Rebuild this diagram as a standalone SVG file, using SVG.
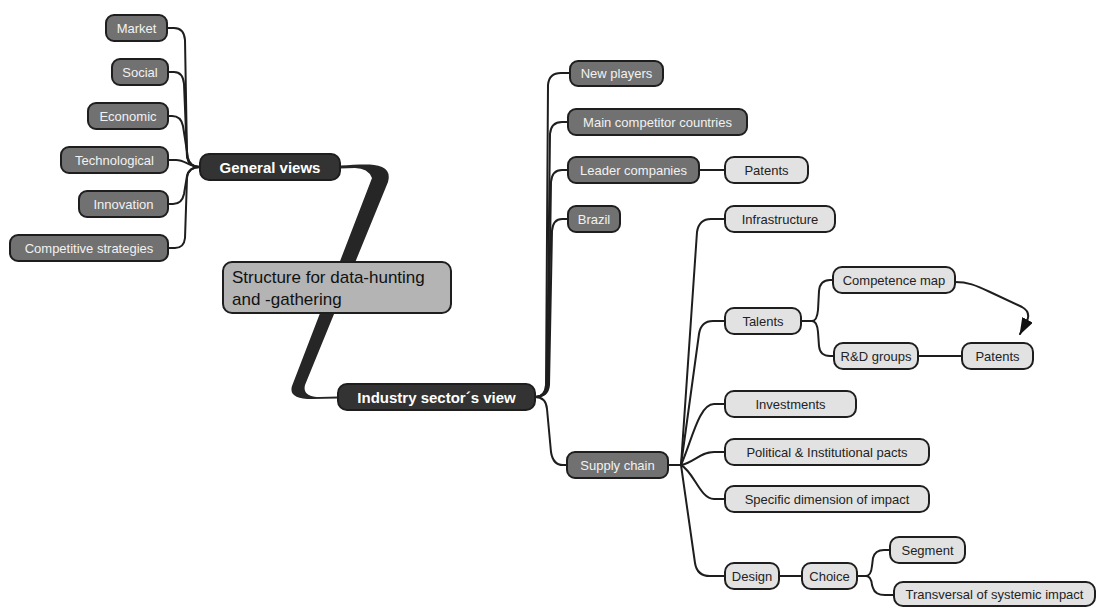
<svg xmlns="http://www.w3.org/2000/svg" width="1097" height="607" viewBox="0 0 1097 607">
  <defs>
    <style>
      .node rect { stroke: #1e1e1e; stroke-width: 2; }
      .mid rect { fill: #717171; }
      .dark rect { fill: #333333; }
      .light rect { fill: #e2e2e2; }
      .root rect { fill: #b4b4b4; }
      text { font-family: "Liberation Sans", Arial, sans-serif; }
      .node text { font-size: 13px; text-anchor: middle; dominant-baseline: central; }
      .mid text { fill: #f2f2f2; }
      .light text { fill: #222222; }
      .dark text { fill: #ffffff; font-size: 15px; font-weight: bold; }
      .root text { fill: #111111; font-size: 17px; text-anchor: start; dominant-baseline: auto; }
      .link { fill: none; stroke: #1e1e1e; stroke-width: 2; stroke-linecap: round; }
    </style>
    <marker id="arrow" markerUnits="userSpaceOnUse" markerWidth="17" markerHeight="12" refX="16" refY="6" orient="auto">
      <path d="M0,0 L17,6 L0,12 z" fill="#111111"/>
    </marker>
  </defs>

  <!-- connectors -->
  <g id="connectors">
    <!-- thick branch between the two main topics -->
    <path d="M340,165.5 C358,165 372,163 382,167 Q391,171 388,182 L305,385 Q302,397 320,397 L338,396.5 L338,398.5 L312,399 Q288,399 292,386 L372,178 Q368,168 355,168 L340,168.5 Z" fill="#262626"/>

    <!-- General views fan -->
    <path class="link" d="M200,167 Q188,167 187,155 L185,40 Q184,28 174,28 L168,28"/>
    <path class="link" d="M200,167 Q189,167 187,157 L184,84 Q183,72 174,72 L168,72"/>
    <path class="link" d="M200,167 Q190,167 188,158 L183,126 Q181,116 172,116 L168,116"/>
    <path class="link" d="M200,167 C190,167 185,160 176,160 L168,160"/>
    <path class="link" d="M200,167 Q189,167 187,176 L184,194 Q182,204 173,204 L168,204"/>
    <path class="link" d="M200,167 Q188,167 187,178 L185,238 Q184,248 175,248 L168,248"/>

    <!-- Industry sector's view fan -->
    <path class="link" d="M535,397 Q545,397 546,385 L548,85 Q549,73 561,73 L570,73"/>
    <path class="link" d="M535,397 Q546,397 547,385 L550,134 Q551,122 562,122 L568,122"/>
    <path class="link" d="M535,397 Q547,397 548,385 L551,182 Q552,170 562,170 L568,170"/>
    <path class="link" d="M535,397 Q548,397 549,385 L552,231 Q553,219 562,219 L568,219"/>
    <path class="link" d="M535,397 Q546,397 547,409 L551,452 Q553,465 563,465 L567,465"/>

    <!-- Leader companies -> Patents -->
    <path class="link" d="M699,170 L725,170"/>

    <!-- Supply chain fan -->
    <path class="link" d="M668,465 L681,465 L697,232 Q699,219 711,219 L725,219"/>
    <path class="link" d="M681,465 L699,334 Q701,321 713,321 L725,321"/>
    <path class="link" d="M681,465 C692,440 699,404 714,404 L725,404"/>
    <path class="link" d="M681,465 C695,462 700,452 714,452 L725,452"/>
    <path class="link" d="M681,465 C694,472 700,499 714,499 L725,499"/>
    <path class="link" d="M681,465 L695,563 Q697,576 710,576 L725,576"/>

    <!-- Talents fan -->
    <path class="link" d="M801,321 L812,321 Q817,321 818,310 L819,291 Q820,280 830,280 L833,280"/>
    <path class="link" d="M812,321 Q817,321 818,332 L819,346 Q820,356 830,356 L834,356"/>
    <path class="link" d="M918,356 L962,356"/>

    <!-- Competence map -> Patents cross link -->
    <path class="link" d="M955,282 C968,282 975,285 990,292 L1022,307 Q1031,312 1027,321 L1020,334" marker-end="url(#arrow)"/>

    <!-- Design / Choice -->
    <path class="link" d="M779,576 L802,576"/>
    <path class="link" d="M857,576 L866,576 Q871,576 872,566 L873,558 Q875,550 884,550 L890,550"/>
    <path class="link" d="M866,576 Q871,576 872,585 L873,588 Q875,595 885,595 L894,595"/>
  </g>

  <!-- central topic -->
  <g id="root" class="node root">
    <rect x="223" y="262" width="228" height="51" rx="9"/>
    <text x="232" y="283">Structure for data-hunting</text>
    <text x="232" y="305">and -gathering</text>
  </g>

  <!-- main topics -->
  <g id="general-views" class="node dark">
    <rect x="200" y="154" width="140" height="26" rx="9"/>
    <text x="270" y="167">General views</text>
  </g>
  <g id="industry-view" class="node dark">
    <rect x="338" y="384" width="197" height="26" rx="9"/>
    <text x="436.5" y="397">Industry sector´s view</text>
  </g>

  <!-- general views subtopics -->
  <g id="market" class="node mid">
    <rect x="106" y="15" width="61" height="26" rx="8"/>
    <text x="136.5" y="28">Market</text>
  </g>
  <g id="social" class="node mid">
    <rect x="112" y="59" width="56" height="26" rx="8"/>
    <text x="140" y="72">Social</text>
  </g>
  <g id="economic" class="node mid">
    <rect x="88" y="103" width="80" height="26" rx="8"/>
    <text x="128" y="116">Economic</text>
  </g>
  <g id="technological" class="node mid">
    <rect x="61" y="147" width="107" height="26" rx="8"/>
    <text x="114.5" y="160">Technological</text>
  </g>
  <g id="innovation" class="node mid">
    <rect x="79" y="191" width="89" height="26" rx="8"/>
    <text x="123.5" y="204">Innovation</text>
  </g>
  <g id="competitive-strategies" class="node mid">
    <rect x="10" y="235" width="158" height="26" rx="8"/>
    <text x="89" y="248">Competitive strategies</text>
  </g>

  <!-- industry sector subtopics -->
  <g id="new-players" class="node mid">
    <rect x="570" y="61" width="93" height="25" rx="8"/>
    <text x="616.5" y="73.5">New players</text>
  </g>
  <g id="main-competitor-countries" class="node mid">
    <rect x="568" y="109" width="179" height="26" rx="8"/>
    <text x="657.5" y="122">Main competitor countries</text>
  </g>
  <g id="leader-companies" class="node mid">
    <rect x="568" y="157" width="131" height="26" rx="8"/>
    <text x="633.5" y="170">Leader companies</text>
  </g>
  <g id="brazil" class="node mid">
    <rect x="568" y="206" width="52" height="26" rx="8"/>
    <text x="594" y="219">Brazil</text>
  </g>
  <g id="supply-chain" class="node mid">
    <rect x="567" y="452" width="101" height="26" rx="8"/>
    <text x="617.5" y="465">Supply chain</text>
  </g>

  <!-- detail topics -->
  <g id="patents-leader" class="node light">
    <rect x="725" y="157" width="83" height="26" rx="9"/>
    <text x="766.5" y="170">Patents</text>
  </g>
  <g id="infrastructure" class="node light">
    <rect x="725" y="206" width="110" height="26" rx="9"/>
    <text x="780" y="219">Infrastructure</text>
  </g>
  <g id="competence-map" class="node light">
    <rect x="833" y="267" width="122" height="26" rx="9"/>
    <text x="894" y="280">Competence map</text>
  </g>
  <g id="talents" class="node light">
    <rect x="725" y="308" width="76" height="26" rx="9"/>
    <text x="763" y="321">Talents</text>
  </g>
  <g id="rd-groups" class="node light">
    <rect x="834" y="343" width="84" height="26" rx="9"/>
    <text x="876" y="356">R&amp;D groups</text>
  </g>
  <g id="patents-rd" class="node light">
    <rect x="962" y="343" width="71" height="26" rx="9"/>
    <text x="997.5" y="356">Patents</text>
  </g>
  <g id="investments" class="node light">
    <rect x="725" y="391" width="131" height="26" rx="9"/>
    <text x="790.5" y="404">Investments</text>
  </g>
  <g id="political-pacts" class="node light">
    <rect x="725" y="439" width="204" height="26" rx="9"/>
    <text x="827" y="452">Political &amp; Institutional pacts</text>
  </g>
  <g id="specific-dimension" class="node light">
    <rect x="725" y="486" width="204" height="26" rx="9"/>
    <text x="827" y="499">Specific dimension of impact</text>
  </g>
  <g id="design" class="node light">
    <rect x="725" y="563" width="54" height="26" rx="9"/>
    <text x="752" y="576">Design</text>
  </g>
  <g id="choice" class="node light">
    <rect x="802" y="563" width="55" height="26" rx="9"/>
    <text x="829.5" y="576">Choice</text>
  </g>
  <g id="segment" class="node light">
    <rect x="890" y="537" width="75" height="26" rx="9"/>
    <text x="927.5" y="550">Segment</text>
  </g>
  <g id="transversal" class="node light">
    <rect x="894" y="582" width="201" height="24" rx="9"/>
    <text x="994.5" y="594">Transversal of systemic impact</text>
  </g>
</svg>
